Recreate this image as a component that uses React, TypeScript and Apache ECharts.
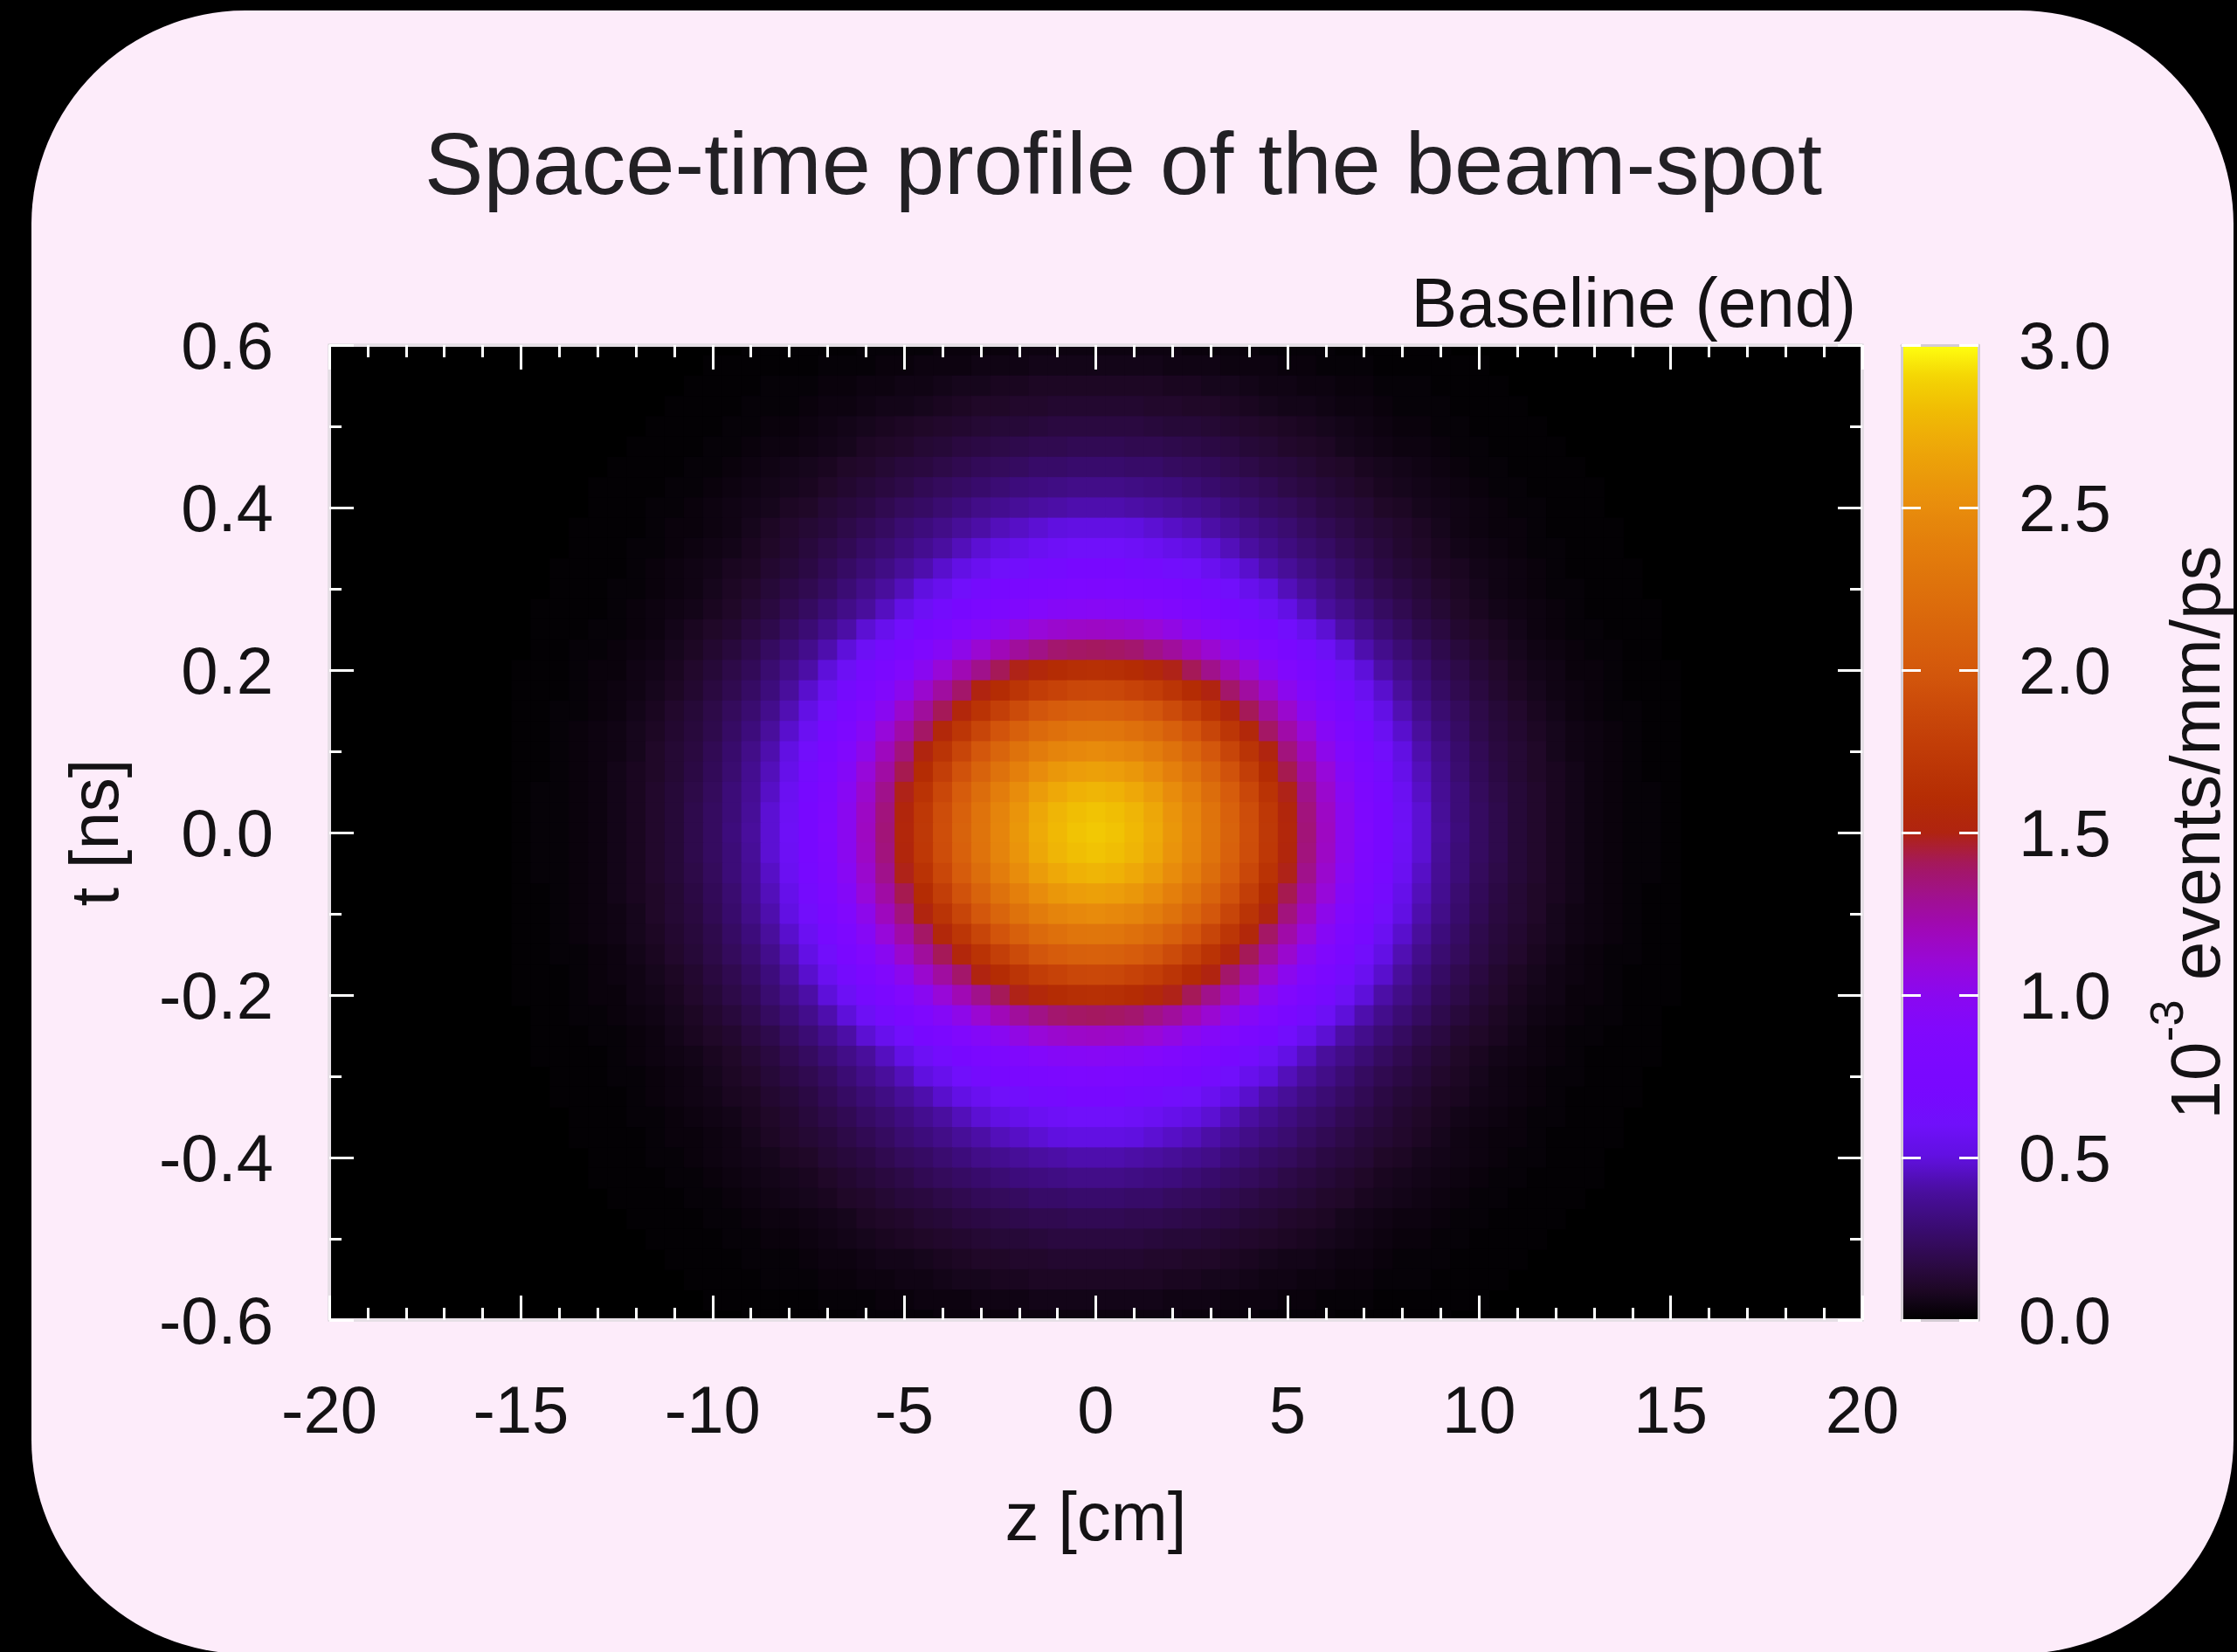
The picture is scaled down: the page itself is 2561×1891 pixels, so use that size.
import React, { useEffect, useRef } from "react";
import * as echarts from "echarts";

const TITLE = "Space-time profile of the beam-spot";
const SUBTITLE = "Baseline (end)";
const X_NAME = "z [cm]";
const Y_NAME = "t [ns]";
const CB_NAME = "{a|10}{b|-3}{a| events/mm/ps}";

// cell centres: z in cm (columns, -15 … 15 by 0.5), t in ns (rows, 0.6 … -0.6 by 0.025)
const zCenters = [
  -15, -14.5, -14, -13.5, -13, -12.5, -12, -11.5, -11, -10.5, -10, -9.5, -9, -8.5, -8, -7.5, -7, -6.5, -6, -5.5, -5, -4.5, -4, -3.5, -3, -2.5, -2, -1.5, -1, -0.5,
  0,
  0.5, 1, 1.5, 2, 2.5, 3, 3.5, 4, 4.5, 5, 5.5, 6, 6.5, 7, 7.5, 8, 8.5, 9, 9.5, 10, 10.5, 11, 11.5, 12, 12.5, 13, 13.5, 14, 14.5, 15,
];
const tCenters = [
  0.6, 0.575, 0.55, 0.525, 0.5, 0.475, 0.45, 0.425, 0.4, 0.375, 0.35, 0.325, 0.3, 0.275, 0.25, 0.225, 0.2, 0.175, 0.15, 0.125, 0.1, 0.075, 0.05, 0.025,
  0,
  -0.025, -0.05, -0.075, -0.1, -0.125, -0.15, -0.175, -0.2, -0.225, -0.25, -0.275, -0.3, -0.325, -0.35, -0.375, -0.4, -0.425, -0.45, -0.475, -0.5, -0.525, -0.55, -0.575, -0.6,
];
const Z_STEP = 0.5;
const T_STEP = 0.025;

// density in 10^-3 events/mm/ps; one row per t centre (top to bottom), one column per z centre
const density = [
  [0,0,0,0,0,0,0,0,0,0,0,0,0.01,0.01,0.01,0.01,0.01,0.01,0.02,0.02,0.02,0.02,0.03,0.03,0.03,0.03,0.04,0.04,0.04,0.04,0.04,0.04,0.04,0.04,0.04,0.03,0.03,0.03,0.03,0.02,0.02,0.02,0.02,0.01,0.01,0.01,0.01,0.01,0.01,0,0,0,0,0,0,0,0,0,0,0,0],
  [0,0,0,0,0,0,0,0,0,0,0.01,0.01,0.01,0.01,0.01,0.01,0.02,0.02,0.02,0.03,0.03,0.04,0.04,0.04,0.05,0.05,0.05,0.06,0.06,0.06,0.06,0.06,0.06,0.06,0.05,0.05,0.05,0.04,0.04,0.04,0.03,0.03,0.02,0.02,0.02,0.01,0.01,0.01,0.01,0.01,0.01,0,0,0,0,0,0,0,0,0,0],
  [0,0,0,0,0,0,0,0,0,0.01,0.01,0.01,0.01,0.02,0.02,0.02,0.03,0.03,0.04,0.04,0.05,0.05,0.06,0.07,0.07,0.08,0.08,0.09,0.09,0.09,0.09,0.09,0.09,0.09,0.08,0.08,0.07,0.07,0.06,0.05,0.05,0.04,0.04,0.03,0.03,0.02,0.02,0.02,0.01,0.01,0.01,0.01,0,0,0,0,0,0,0,0,0],
  [0,0,0,0,0,0,0,0,0.01,0.01,0.01,0.01,0.02,0.02,0.02,0.03,0.04,0.04,0.05,0.06,0.06,0.07,0.08,0.09,0.10,0.10,0.11,0.11,0.12,0.12,0.12,0.12,0.12,0.11,0.11,0.10,0.10,0.09,0.08,0.07,0.06,0.06,0.05,0.04,0.04,0.03,0.02,0.02,0.02,0.01,0.01,0.01,0.01,0,0,0,0,0,0,0,0],
  [0,0,0,0,0,0,0,0.01,0.01,0.01,0.01,0.02,0.02,0.03,0.03,0.04,0.05,0.06,0.07,0.08,0.09,0.10,0.11,0.12,0.13,0.14,0.14,0.15,0.16,0.16,0.16,0.16,0.16,0.15,0.14,0.14,0.13,0.12,0.11,0.10,0.09,0.08,0.07,0.06,0.05,0.04,0.03,0.03,0.02,0.02,0.01,0.01,0.01,0.01,0,0,0,0,0,0,0],
  [0,0,0,0,0,0,0.01,0.01,0.01,0.01,0.02,0.02,0.03,0.04,0.04,0.05,0.06,0.07,0.09,0.10,0.11,0.13,0.14,0.16,0.17,0.18,0.19,0.20,0.20,0.21,0.21,0.21,0.20,0.20,0.19,0.18,0.17,0.16,0.14,0.13,0.11,0.10,0.09,0.07,0.06,0.05,0.04,0.04,0.03,0.02,0.02,0.01,0.01,0.01,0.01,0,0,0,0,0,0],
  [0,0,0,0,0,0.01,0.01,0.01,0.01,0.02,0.02,0.03,0.04,0.05,0.06,0.07,0.08,0.10,0.11,0.13,0.15,0.16,0.18,0.20,0.22,0.23,0.24,0.26,0.26,0.27,0.27,0.27,0.26,0.26,0.24,0.23,0.22,0.20,0.18,0.16,0.15,0.13,0.11,0.10,0.08,0.07,0.06,0.05,0.04,0.03,0.02,0.02,0.01,0.01,0.01,0.01,0,0,0,0,0],
  [0,0,0,0,0.01,0.01,0.01,0.01,0.02,0.02,0.03,0.04,0.05,0.06,0.07,0.08,0.10,0.12,0.14,0.16,0.18,0.21,0.23,0.25,0.27,0.29,0.31,0.32,0.33,0.34,0.34,0.34,0.33,0.32,0.31,0.29,0.27,0.25,0.23,0.21,0.18,0.16,0.14,0.12,0.10,0.08,0.07,0.06,0.05,0.04,0.03,0.02,0.02,0.01,0.01,0.01,0.01,0,0,0,0],
  [0,0,0,0,0.01,0.01,0.01,0.02,0.02,0.03,0.04,0.05,0.06,0.07,0.09,0.10,0.13,0.15,0.17,0.20,0.23,0.25,0.28,0.31,0.34,0.36,0.38,0.40,0.41,0.42,0.42,0.42,0.41,0.40,0.38,0.36,0.34,0.31,0.28,0.25,0.23,0.20,0.17,0.15,0.13,0.10,0.09,0.07,0.06,0.05,0.04,0.03,0.02,0.02,0.01,0.01,0.01,0,0,0,0],
  [0,0,0,0.01,0.01,0.01,0.01,0.02,0.03,0.03,0.04,0.05,0.07,0.09,0.11,0.13,0.15,0.18,0.21,0.24,0.28,0.31,0.34,0.38,0.41,0.44,0.46,0.48,0.50,0.51,0.51,0.51,0.50,0.48,0.46,0.44,0.41,0.38,0.34,0.31,0.28,0.24,0.21,0.18,0.15,0.13,0.11,0.09,0.07,0.05,0.04,0.03,0.03,0.02,0.01,0.01,0.01,0.01,0,0,0],
  [0,0,0,0.01,0.01,0.01,0.02,0.02,0.03,0.04,0.05,0.06,0.08,0.10,0.12,0.15,0.18,0.21,0.25,0.28,0.32,0.36,0.40,0.44,0.48,0.51,0.54,0.57,0.59,0.60,0.60,0.60,0.59,0.57,0.54,0.51,0.48,0.44,0.40,0.36,0.32,0.28,0.25,0.21,0.18,0.15,0.12,0.10,0.08,0.06,0.05,0.04,0.03,0.02,0.02,0.01,0.01,0.01,0,0,0],
  [0,0,0.01,0.01,0.01,0.01,0.02,0.03,0.04,0.05,0.06,0.08,0.09,0.12,0.14,0.17,0.21,0.25,0.29,0.33,0.38,0.42,0.47,0.52,0.56,0.60,0.63,0.66,0.68,0.70,0.70,0.70,0.68,0.66,0.63,0.60,0.56,0.52,0.47,0.42,0.38,0.33,0.29,0.25,0.21,0.17,0.14,0.12,0.09,0.08,0.06,0.05,0.04,0.03,0.02,0.01,0.01,0.01,0.01,0,0],
  [0,0,0.01,0.01,0.01,0.02,0.02,0.03,0.04,0.05,0.07,0.09,0.11,0.14,0.17,0.20,0.24,0.29,0.34,0.39,0.44,0.50,0.55,0.61,0.66,0.70,0.74,0.78,0.80,0.81,0.82,0.81,0.80,0.78,0.74,0.70,0.66,0.61,0.55,0.50,0.44,0.39,0.34,0.29,0.24,0.20,0.17,0.14,0.11,0.09,0.07,0.05,0.04,0.03,0.02,0.02,0.01,0.01,0.01,0,0],
  [0,0.01,0.01,0.01,0.01,0.02,0.03,0.04,0.05,0.06,0.08,0.10,0.13,0.16,0.20,0.24,0.29,0.34,0.39,0.45,0.52,0.58,0.65,0.71,0.77,0.82,0.87,0.91,0.94,0.95,0.96,0.95,0.94,0.91,0.87,0.82,0.77,0.71,0.65,0.58,0.52,0.45,0.39,0.34,0.29,0.24,0.20,0.16,0.13,0.10,0.08,0.06,0.05,0.04,0.03,0.02,0.01,0.01,0.01,0.01,0],
  [0,0.01,0.01,0.01,0.02,0.02,0.03,0.04,0.06,0.08,0.10,0.12,0.16,0.19,0.24,0.29,0.35,0.41,0.48,0.55,0.63,0.70,0.78,0.86,0.93,0.99,1.05,1.10,1.13,1.15,1.16,1.15,1.13,1.10,1.05,0.99,0.93,0.86,0.78,0.70,0.63,0.55,0.48,0.41,0.35,0.29,0.24,0.19,0.16,0.12,0.10,0.08,0.06,0.04,0.03,0.02,0.02,0.01,0.01,0.01,0],
  [0,0.01,0.01,0.02,0.02,0.03,0.04,0.05,0.07,0.09,0.12,0.15,0.19,0.24,0.29,0.35,0.42,0.49,0.58,0.66,0.76,0.85,0.94,1.03,1.12,1.20,1.27,1.32,1.37,1.39,1.40,1.39,1.37,1.32,1.27,1.20,1.12,1.03,0.94,0.85,0.76,0.66,0.58,0.49,0.42,0.35,0.29,0.24,0.19,0.15,0.12,0.09,0.07,0.05,0.04,0.03,0.02,0.02,0.01,0.01,0],
  [0.01,0.01,0.01,0.02,0.03,0.03,0.05,0.06,0.08,0.11,0.14,0.18,0.22,0.28,0.34,0.41,0.49,0.58,0.67,0.78,0.88,0.99,1.10,1.21,1.31,1.41,1.49,1.55,1.60,1.63,1.64,1.63,1.60,1.55,1.49,1.41,1.31,1.21,1.10,0.99,0.88,0.78,0.67,0.58,0.49,0.41,0.34,0.28,0.22,0.18,0.14,0.11,0.08,0.06,0.05,0.03,0.03,0.02,0.01,0.01,0.01],
  [0.01,0.01,0.01,0.02,0.03,0.04,0.05,0.07,0.09,0.12,0.16,0.20,0.25,0.31,0.39,0.47,0.56,0.66,0.77,0.89,1.01,1.13,1.26,1.38,1.50,1.60,1.69,1.77,1.82,1.86,1.87,1.86,1.82,1.77,1.69,1.60,1.50,1.38,1.26,1.13,1.01,0.89,0.77,0.66,0.56,0.47,0.39,0.31,0.25,0.20,0.16,0.12,0.09,0.07,0.05,0.04,0.03,0.02,0.01,0.01,0.01],
  [0.01,0.01,0.02,0.02,0.03,0.04,0.06,0.08,0.11,0.14,0.18,0.23,0.28,0.35,0.43,0.52,0.62,0.74,0.86,0.99,1.13,1.27,1.41,1.54,1.67,1.79,1.89,1.98,2.04,2.08,2.09,2.08,2.04,1.98,1.89,1.79,1.67,1.54,1.41,1.27,1.13,0.99,0.86,0.74,0.62,0.52,0.43,0.35,0.28,0.23,0.18,0.14,0.11,0.08,0.06,0.04,0.03,0.02,0.02,0.01,0.01],
  [0.01,0.01,0.02,0.03,0.04,0.05,0.07,0.09,0.12,0.15,0.19,0.25,0.31,0.39,0.47,0.57,0.69,0.81,0.95,1.09,1.24,1.39,1.55,1.70,1.84,1.97,2.08,2.18,2.24,2.29,2.30,2.29,2.24,2.18,2.08,1.97,1.84,1.70,1.55,1.39,1.24,1.09,0.95,0.81,0.69,0.57,0.47,0.39,0.31,0.25,0.19,0.15,0.12,0.09,0.07,0.05,0.04,0.03,0.02,0.01,0.01],
  [0.01,0.01,0.02,0.03,0.04,0.05,0.07,0.10,0.13,0.16,0.21,0.27,0.34,0.42,0.51,0.62,0.74,0.88,1.02,1.18,1.34,1.51,1.68,1.84,1.99,2.13,2.26,2.36,2.43,2.47,2.49,2.47,2.43,2.36,2.26,2.13,1.99,1.84,1.68,1.51,1.34,1.18,1.02,0.88,0.74,0.62,0.51,0.42,0.34,0.27,0.21,0.16,0.13,0.10,0.07,0.05,0.04,0.03,0.02,0.01,0.01],
  [0.01,0.01,0.02,0.03,0.04,0.06,0.08,0.10,0.13,0.17,0.22,0.28,0.36,0.44,0.54,0.66,0.79,0.93,1.09,1.25,1.42,1.60,1.78,1.95,2.11,2.26,2.39,2.50,2.58,2.62,2.64,2.62,2.58,2.50,2.39,2.26,2.11,1.95,1.78,1.60,1.42,1.25,1.09,0.93,0.79,0.66,0.54,0.44,0.36,0.28,0.22,0.17,0.13,0.10,0.08,0.06,0.04,0.03,0.02,0.01,0.01],
  [0.01,0.02,0.02,0.03,0.04,0.06,0.08,0.11,0.14,0.18,0.23,0.30,0.37,0.46,0.57,0.69,0.82,0.97,1.13,1.31,1.49,1.67,1.86,2.04,2.21,2.37,2.50,2.61,2.69,2.74,2.76,2.74,2.69,2.61,2.50,2.37,2.21,2.04,1.86,1.67,1.49,1.31,1.13,0.97,0.82,0.69,0.57,0.46,0.37,0.30,0.23,0.18,0.14,0.11,0.08,0.06,0.04,0.03,0.02,0.02,0.01],
  [0.01,0.02,0.02,0.03,0.04,0.06,0.08,0.11,0.14,0.19,0.24,0.30,0.38,0.48,0.58,0.71,0.84,1.00,1.16,1.34,1.53,1.72,1.91,2.09,2.27,2.43,2.56,2.68,2.76,2.81,2.83,2.81,2.76,2.68,2.56,2.43,2.27,2.09,1.91,1.72,1.53,1.34,1.16,1.00,0.84,0.71,0.58,0.48,0.38,0.30,0.24,0.19,0.14,0.11,0.08,0.06,0.04,0.03,0.02,0.02,0.01],
  [0.01,0.02,0.02,0.03,0.04,0.06,0.08,0.11,0.14,0.19,0.24,0.31,0.39,0.48,0.59,0.71,0.85,1.00,1.17,1.35,1.54,1.73,1.92,2.11,2.28,2.44,2.58,2.70,2.78,2.83,2.85,2.83,2.78,2.70,2.58,2.44,2.28,2.11,1.92,1.73,1.54,1.35,1.17,1.00,0.85,0.71,0.59,0.48,0.39,0.31,0.24,0.19,0.14,0.11,0.08,0.06,0.04,0.03,0.02,0.02,0.01],
  [0.01,0.02,0.02,0.03,0.04,0.06,0.08,0.11,0.14,0.19,0.24,0.30,0.38,0.48,0.58,0.71,0.84,1.00,1.16,1.34,1.53,1.72,1.91,2.09,2.27,2.43,2.56,2.68,2.76,2.81,2.83,2.81,2.76,2.68,2.56,2.43,2.27,2.09,1.91,1.72,1.53,1.34,1.16,1.00,0.84,0.71,0.58,0.48,0.38,0.30,0.24,0.19,0.14,0.11,0.08,0.06,0.04,0.03,0.02,0.02,0.01],
  [0.01,0.02,0.02,0.03,0.04,0.06,0.08,0.11,0.14,0.18,0.23,0.30,0.37,0.46,0.57,0.69,0.82,0.97,1.13,1.31,1.49,1.67,1.86,2.04,2.21,2.37,2.50,2.61,2.69,2.74,2.76,2.74,2.69,2.61,2.50,2.37,2.21,2.04,1.86,1.67,1.49,1.31,1.13,0.97,0.82,0.69,0.57,0.46,0.37,0.30,0.23,0.18,0.14,0.11,0.08,0.06,0.04,0.03,0.02,0.02,0.01],
  [0.01,0.01,0.02,0.03,0.04,0.06,0.08,0.10,0.13,0.17,0.22,0.28,0.36,0.44,0.54,0.66,0.79,0.93,1.09,1.25,1.42,1.60,1.78,1.95,2.11,2.26,2.39,2.50,2.58,2.62,2.64,2.62,2.58,2.50,2.39,2.26,2.11,1.95,1.78,1.60,1.42,1.25,1.09,0.93,0.79,0.66,0.54,0.44,0.36,0.28,0.22,0.17,0.13,0.10,0.08,0.06,0.04,0.03,0.02,0.01,0.01],
  [0.01,0.01,0.02,0.03,0.04,0.05,0.07,0.10,0.13,0.16,0.21,0.27,0.34,0.42,0.51,0.62,0.74,0.88,1.02,1.18,1.34,1.51,1.68,1.84,1.99,2.13,2.26,2.36,2.43,2.47,2.49,2.47,2.43,2.36,2.26,2.13,1.99,1.84,1.68,1.51,1.34,1.18,1.02,0.88,0.74,0.62,0.51,0.42,0.34,0.27,0.21,0.16,0.13,0.10,0.07,0.05,0.04,0.03,0.02,0.01,0.01],
  [0.01,0.01,0.02,0.03,0.04,0.05,0.07,0.09,0.12,0.15,0.19,0.25,0.31,0.39,0.47,0.57,0.69,0.81,0.95,1.09,1.24,1.39,1.55,1.70,1.84,1.97,2.08,2.18,2.24,2.29,2.30,2.29,2.24,2.18,2.08,1.97,1.84,1.70,1.55,1.39,1.24,1.09,0.95,0.81,0.69,0.57,0.47,0.39,0.31,0.25,0.19,0.15,0.12,0.09,0.07,0.05,0.04,0.03,0.02,0.01,0.01],
  [0.01,0.01,0.02,0.02,0.03,0.04,0.06,0.08,0.11,0.14,0.18,0.23,0.28,0.35,0.43,0.52,0.62,0.74,0.86,0.99,1.13,1.27,1.41,1.54,1.67,1.79,1.89,1.98,2.04,2.08,2.09,2.08,2.04,1.98,1.89,1.79,1.67,1.54,1.41,1.27,1.13,0.99,0.86,0.74,0.62,0.52,0.43,0.35,0.28,0.23,0.18,0.14,0.11,0.08,0.06,0.04,0.03,0.02,0.02,0.01,0.01],
  [0.01,0.01,0.01,0.02,0.03,0.04,0.05,0.07,0.09,0.12,0.16,0.20,0.25,0.31,0.39,0.47,0.56,0.66,0.77,0.89,1.01,1.13,1.26,1.38,1.50,1.60,1.69,1.77,1.82,1.86,1.87,1.86,1.82,1.77,1.69,1.60,1.50,1.38,1.26,1.13,1.01,0.89,0.77,0.66,0.56,0.47,0.39,0.31,0.25,0.20,0.16,0.12,0.09,0.07,0.05,0.04,0.03,0.02,0.01,0.01,0.01],
  [0.01,0.01,0.01,0.02,0.03,0.03,0.05,0.06,0.08,0.11,0.14,0.18,0.22,0.28,0.34,0.41,0.49,0.58,0.67,0.78,0.88,0.99,1.10,1.21,1.31,1.41,1.49,1.55,1.60,1.63,1.64,1.63,1.60,1.55,1.49,1.41,1.31,1.21,1.10,0.99,0.88,0.78,0.67,0.58,0.49,0.41,0.34,0.28,0.22,0.18,0.14,0.11,0.08,0.06,0.05,0.03,0.03,0.02,0.01,0.01,0.01],
  [0,0.01,0.01,0.02,0.02,0.03,0.04,0.05,0.07,0.09,0.12,0.15,0.19,0.24,0.29,0.35,0.42,0.49,0.58,0.66,0.76,0.85,0.94,1.03,1.12,1.20,1.27,1.32,1.37,1.39,1.40,1.39,1.37,1.32,1.27,1.20,1.12,1.03,0.94,0.85,0.76,0.66,0.58,0.49,0.42,0.35,0.29,0.24,0.19,0.15,0.12,0.09,0.07,0.05,0.04,0.03,0.02,0.02,0.01,0.01,0],
  [0,0.01,0.01,0.01,0.02,0.02,0.03,0.04,0.06,0.08,0.10,0.12,0.16,0.19,0.24,0.29,0.35,0.41,0.48,0.55,0.63,0.70,0.78,0.86,0.93,0.99,1.05,1.10,1.13,1.15,1.16,1.15,1.13,1.10,1.05,0.99,0.93,0.86,0.78,0.70,0.63,0.55,0.48,0.41,0.35,0.29,0.24,0.19,0.16,0.12,0.10,0.08,0.06,0.04,0.03,0.02,0.02,0.01,0.01,0.01,0],
  [0,0.01,0.01,0.01,0.01,0.02,0.03,0.04,0.05,0.06,0.08,0.10,0.13,0.16,0.20,0.24,0.29,0.34,0.39,0.45,0.52,0.58,0.65,0.71,0.77,0.82,0.87,0.91,0.94,0.95,0.96,0.95,0.94,0.91,0.87,0.82,0.77,0.71,0.65,0.58,0.52,0.45,0.39,0.34,0.29,0.24,0.20,0.16,0.13,0.10,0.08,0.06,0.05,0.04,0.03,0.02,0.01,0.01,0.01,0.01,0],
  [0,0,0.01,0.01,0.01,0.02,0.02,0.03,0.04,0.05,0.07,0.09,0.11,0.14,0.17,0.20,0.24,0.29,0.34,0.39,0.44,0.50,0.55,0.61,0.66,0.70,0.74,0.78,0.80,0.81,0.82,0.81,0.80,0.78,0.74,0.70,0.66,0.61,0.55,0.50,0.44,0.39,0.34,0.29,0.24,0.20,0.17,0.14,0.11,0.09,0.07,0.05,0.04,0.03,0.02,0.02,0.01,0.01,0.01,0,0],
  [0,0,0.01,0.01,0.01,0.01,0.02,0.03,0.04,0.05,0.06,0.08,0.09,0.12,0.14,0.17,0.21,0.25,0.29,0.33,0.38,0.42,0.47,0.52,0.56,0.60,0.63,0.66,0.68,0.70,0.70,0.70,0.68,0.66,0.63,0.60,0.56,0.52,0.47,0.42,0.38,0.33,0.29,0.25,0.21,0.17,0.14,0.12,0.09,0.08,0.06,0.05,0.04,0.03,0.02,0.01,0.01,0.01,0.01,0,0],
  [0,0,0,0.01,0.01,0.01,0.02,0.02,0.03,0.04,0.05,0.06,0.08,0.10,0.12,0.15,0.18,0.21,0.25,0.28,0.32,0.36,0.40,0.44,0.48,0.51,0.54,0.57,0.59,0.60,0.60,0.60,0.59,0.57,0.54,0.51,0.48,0.44,0.40,0.36,0.32,0.28,0.25,0.21,0.18,0.15,0.12,0.10,0.08,0.06,0.05,0.04,0.03,0.02,0.02,0.01,0.01,0.01,0,0,0],
  [0,0,0,0.01,0.01,0.01,0.01,0.02,0.03,0.03,0.04,0.05,0.07,0.09,0.11,0.13,0.15,0.18,0.21,0.24,0.28,0.31,0.34,0.38,0.41,0.44,0.46,0.48,0.50,0.51,0.51,0.51,0.50,0.48,0.46,0.44,0.41,0.38,0.34,0.31,0.28,0.24,0.21,0.18,0.15,0.13,0.11,0.09,0.07,0.05,0.04,0.03,0.03,0.02,0.01,0.01,0.01,0.01,0,0,0],
  [0,0,0,0,0.01,0.01,0.01,0.02,0.02,0.03,0.04,0.05,0.06,0.07,0.09,0.10,0.13,0.15,0.17,0.20,0.23,0.25,0.28,0.31,0.34,0.36,0.38,0.40,0.41,0.42,0.42,0.42,0.41,0.40,0.38,0.36,0.34,0.31,0.28,0.25,0.23,0.20,0.17,0.15,0.13,0.10,0.09,0.07,0.06,0.05,0.04,0.03,0.02,0.02,0.01,0.01,0.01,0,0,0,0],
  [0,0,0,0,0.01,0.01,0.01,0.01,0.02,0.02,0.03,0.04,0.05,0.06,0.07,0.08,0.10,0.12,0.14,0.16,0.18,0.21,0.23,0.25,0.27,0.29,0.31,0.32,0.33,0.34,0.34,0.34,0.33,0.32,0.31,0.29,0.27,0.25,0.23,0.21,0.18,0.16,0.14,0.12,0.10,0.08,0.07,0.06,0.05,0.04,0.03,0.02,0.02,0.01,0.01,0.01,0.01,0,0,0,0],
  [0,0,0,0,0,0.01,0.01,0.01,0.01,0.02,0.02,0.03,0.04,0.05,0.06,0.07,0.08,0.10,0.11,0.13,0.15,0.16,0.18,0.20,0.22,0.23,0.24,0.26,0.26,0.27,0.27,0.27,0.26,0.26,0.24,0.23,0.22,0.20,0.18,0.16,0.15,0.13,0.11,0.10,0.08,0.07,0.06,0.05,0.04,0.03,0.02,0.02,0.01,0.01,0.01,0.01,0,0,0,0,0],
  [0,0,0,0,0,0,0.01,0.01,0.01,0.01,0.02,0.02,0.03,0.04,0.04,0.05,0.06,0.07,0.09,0.10,0.11,0.13,0.14,0.16,0.17,0.18,0.19,0.20,0.20,0.21,0.21,0.21,0.20,0.20,0.19,0.18,0.17,0.16,0.14,0.13,0.11,0.10,0.09,0.07,0.06,0.05,0.04,0.04,0.03,0.02,0.02,0.01,0.01,0.01,0.01,0,0,0,0,0,0],
  [0,0,0,0,0,0,0,0.01,0.01,0.01,0.01,0.02,0.02,0.03,0.03,0.04,0.05,0.06,0.07,0.08,0.09,0.10,0.11,0.12,0.13,0.14,0.14,0.15,0.16,0.16,0.16,0.16,0.16,0.15,0.14,0.14,0.13,0.12,0.11,0.10,0.09,0.08,0.07,0.06,0.05,0.04,0.03,0.03,0.02,0.02,0.01,0.01,0.01,0.01,0,0,0,0,0,0,0],
  [0,0,0,0,0,0,0,0,0.01,0.01,0.01,0.01,0.02,0.02,0.02,0.03,0.04,0.04,0.05,0.06,0.06,0.07,0.08,0.09,0.10,0.10,0.11,0.11,0.12,0.12,0.12,0.12,0.12,0.11,0.11,0.10,0.10,0.09,0.08,0.07,0.06,0.06,0.05,0.04,0.04,0.03,0.02,0.02,0.02,0.01,0.01,0.01,0.01,0,0,0,0,0,0,0,0],
  [0,0,0,0,0,0,0,0,0,0.01,0.01,0.01,0.01,0.02,0.02,0.02,0.03,0.03,0.04,0.04,0.05,0.05,0.06,0.07,0.07,0.08,0.08,0.09,0.09,0.09,0.09,0.09,0.09,0.09,0.08,0.08,0.07,0.07,0.06,0.05,0.05,0.04,0.04,0.03,0.03,0.02,0.02,0.02,0.01,0.01,0.01,0.01,0,0,0,0,0,0,0,0,0],
  [0,0,0,0,0,0,0,0,0,0,0.01,0.01,0.01,0.01,0.01,0.01,0.02,0.02,0.02,0.03,0.03,0.04,0.04,0.04,0.05,0.05,0.05,0.06,0.06,0.06,0.06,0.06,0.06,0.06,0.05,0.05,0.05,0.04,0.04,0.04,0.03,0.03,0.02,0.02,0.02,0.01,0.01,0.01,0.01,0.01,0.01,0,0,0,0,0,0,0,0,0,0],
  [0,0,0,0,0,0,0,0,0,0,0,0,0.01,0.01,0.01,0.01,0.01,0.01,0.02,0.02,0.02,0.02,0.03,0.03,0.03,0.03,0.04,0.04,0.04,0.04,0.04,0.04,0.04,0.04,0.04,0.03,0.03,0.03,0.03,0.02,0.02,0.02,0.02,0.01,0.01,0.01,0.01,0.01,0.01,0,0,0,0,0,0,0,0,0,0,0,0],
];

// palette, evenly spaced from 0.0 to 3.0 in steps of 0.1
const palette = [
  "#000000", "#200828", "#300a50", "#3c0c78", "#4a0ea0", "#6010e0", "#7010fa", "#7808ff",
  "#7c08ff", "#8208fc", "#8a08f0", "#9808d8", "#a008b8", "#a01090", "#a41860", "#b02410",
  "#b42c04", "#bc3606", "#c44008", "#cc4c0a", "#d4580c", "#d8620c", "#dc6c0c", "#e0760c",
  "#e4800c", "#e88c0c", "#eb9a0a", "#eeaa08", "#f0bc04", "#f4d404", "#ffff10",
];

const FONT = "'Liberation Sans', Arial, Helvetica, sans-serif";
const TEXT = "#141214";
const PINK = "#fdecfa";

const cells: number[][] = [];
tCenters.forEach((t, i) => {
  zCenters.forEach((z, j) => {
    const v = density[i][j];
    if (v > 0) cells.push([z, t, v]);
  });
});

const fmt1 = (v: number) => (Math.abs(v) < 1e-9 ? "0.0" : v.toFixed(1));

export default function App() {
  const ref = useRef<HTMLDivElement>(null);
  useEffect(() => {
    if (!ref.current) return;
    const chart = echarts.init(ref.current, undefined, { renderer: "svg" });
    const tickW = { color: "#ffffff", width: 3 };
    const frame = { show: true, onZero: false, lineStyle: { color: "#e6dfe6", width: 4 } };
    const mainX = (pos: "top" | "bottom", labels: boolean) => ({
      type: "value",
      gridIndex: 0,
      position: pos,
      min: -20,
      max: 20,
      interval: 5,
      axisLine: frame,
      axisTick: { show: true, inside: true, length: 28, lineStyle: tickW },
      minorTick: { show: true, splitNumber: 5, length: 14, lineStyle: tickW },
      splitLine: { show: false },
      axisLabel: { show: labels, fontSize: 76, color: TEXT, fontFamily: FONT, margin: 64 },
      name: labels ? X_NAME : "",
      nameLocation: "middle",
      nameGap: 186,
      nameTextStyle: { fontSize: 78, color: TEXT, fontFamily: FONT },
      z: 10,
    });
    const mainY = (pos: "left" | "right", labels: boolean) => ({
      type: "value",
      gridIndex: 0,
      position: pos,
      min: -0.6,
      max: 0.6,
      interval: 0.2,
      axisLine: frame,
      axisTick: { show: true, inside: true, length: 28, lineStyle: tickW },
      minorTick: { show: true, splitNumber: 2, length: 14, lineStyle: tickW },
      splitLine: { show: false },
      axisLabel: { show: labels, fontSize: 76, color: TEXT, fontFamily: FONT, margin: 64, formatter: fmt1 },
      name: labels ? Y_NAME : "",
      nameLocation: "middle",
      nameRotate: 90,
      nameGap: 230,
      nameTextStyle: { fontSize: 78, color: TEXT, fontFamily: FONT },
      z: 10,
    });
    const cbFrame = { show: true, onZero: false, lineStyle: { color: "#d4ccd4", width: 3 } };
    const cbY = (pos: "left" | "right", labels: boolean) => ({
      type: "value",
      gridIndex: 1,
      position: pos,
      min: 0,
      max: 3,
      interval: 0.5,
      axisLine: cbFrame,
      axisTick: { show: true, inside: true, length: 22, lineStyle: { color: "#ffffff", width: 3 } },
      splitLine: { show: false },
      axisLabel: { show: labels, fontSize: 76, color: TEXT, fontFamily: FONT, margin: 46, formatter: fmt1 },
      name: labels ? CB_NAME : "",
      nameLocation: "middle",
      nameRotate: 90,
      nameGap: 188,
      nameTextStyle: {
        color: TEXT,
        fontFamily: FONT,
        rich: {
          a: { fontSize: 80, color: TEXT, fontFamily: FONT, verticalAlign: "bottom", lineHeight: 100 },
          b: { fontSize: 54, color: TEXT, fontFamily: FONT, verticalAlign: "top", lineHeight: 54 },
        },
      },
      z: 10,
    });
    const cbX = (pos: "top" | "bottom") => ({
      type: "value",
      gridIndex: 1,
      position: pos,
      min: 0,
      max: 1,
      axisLine: cbFrame,
      axisTick: { show: false },
      axisLabel: { show: false },
      splitLine: { show: false },
      z: 10,
    });

    chart.setOption({
      animation: false,
      backgroundColor: "#000000",
      graphic: [
        {
          type: "rect",
          z: -100,
          silent: true,
          shape: { x: 36, y: 12, width: 2521, height: 1881, r: 245 },
          style: { fill: PINK },
        },
        {
          type: "text",
          x: 2125,
          y: 346,
          style: {
            text: SUBTITLE,
            fontSize: 79,
            fontFamily: FONT,
            fill: TEXT,
            textAlign: "right",
            textVerticalAlign: "middle",
          },
        },
      ],
      title: {
        text: TITLE,
        left: 1281,
        top: 131,
        textAlign: "center",
        textStyle: { fontSize: 101, fontWeight: "normal", color: "#222024", fontFamily: FONT },
      },
      grid: [
        { left: 377, top: 395, width: 1755, height: 1116, show: true, backgroundColor: "#000000", borderWidth: 0 },
        { left: 2177, top: 395, width: 88, height: 1116, show: false },
      ],
      xAxis: [mainX("bottom", true), mainX("top", false), cbX("bottom"), cbX("top")],
      yAxis: [mainY("left", true), mainY("right", false), cbY("right", true), cbY("left", false)],
      visualMap: {
        type: "continuous",
        seriesIndex: 0,
        dimension: 2,
        min: 0,
        max: 3,
        calculable: false,
        hoverLink: false,
        orient: "vertical",
        left: 2177,
        top: 395,
        itemWidth: 88,
        itemHeight: 1116,
        padding: 0,
        showLabel: false,
        inRange: { color: palette },
      },
      series: [
        {
          type: "custom",
          coordinateSystem: "cartesian2d",
          xAxisIndex: 0,
          yAxisIndex: 0,
          clip: true,
          silent: true,
          encode: { x: 0, y: 1 },
          data: cells,
          renderItem: (params: any, api: any) => {
            const z = api.value(0);
            const t = api.value(1);
            const p1 = api.coord([z - Z_STEP / 2, t + T_STEP / 2]);
            const p2 = api.coord([z + Z_STEP / 2, t - T_STEP / 2]);
            return {
              type: "rect",
              shape: { x: p1[0], y: p1[1], width: p2[0] - p1[0] + 1, height: p2[1] - p1[1] + 1 },
              style: { fill: api.visual("color"), stroke: null },
            };
          },
        },
      ],
    });
    return () => chart.dispose();
  }, []);
  return <div ref={ref} style={{ position: "fixed", left: 0, top: 0, width: 2561, height: 1891 }} />;
}
